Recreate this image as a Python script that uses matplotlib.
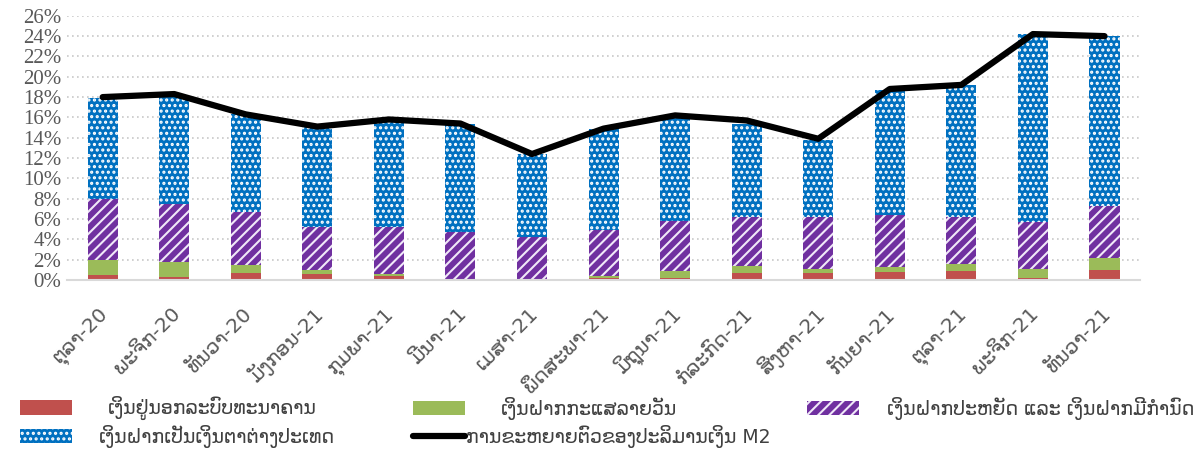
import numpy as np
import matplotlib.pyplot as plt
from matplotlib.patches import Patch
from matplotlib.lines import Line2D
import matplotlib.transforms as mtransforms

months = ['ຕຸລາ-20', 'ພະຈິກ-20', 'ທັນວາ-20', 'ມັງກອນ-21', 'ກຸມພາ-21', 'ມີນາ-21',
          'ເມສາ-21', 'ພຶດສະພາ-21', 'ມິຖຸນາ-21', 'ກໍລະກົດ-21', 'ສິງຫາ-21',
          'ກັນຍາ-21', 'ຕຸລາ-21', 'ພະຈິກ-21', 'ທັນວາ-21']

# contributions to M2 growth (percentage points)
currency = [0.52, 0.33, 0.65, 0.62, 0.39, 0.10, 0.05, 0.20, 0.20, 0.65, 0.65, 0.75, 0.85, 0.20, 0.98]
demand = [1.45, 1.47, 0.85, 0.36, 0.20, 0.05, 0.05, 0.19, 0.72, 0.69, 0.46, 0.49, 0.72, 0.85, 1.15]
savings = [6.03, 5.67, 5.18, 4.26, 4.59, 4.53, 4.16, 4.52, 4.91, 4.82, 5.11, 5.18, 4.59, 4.71, 5.11]
foreign = [9.95, 10.63, 9.62, 9.83, 10.48, 10.65, 8.12, 9.93, 10.15, 9.17, 7.54, 12.25, 13.00, 18.41, 16.74]
m2_growth = [18.0, 18.3, 16.3, 15.1, 15.8, 15.4, 12.4, 14.9, 16.2, 15.7, 13.9, 18.8, 19.2, 24.2, 24.0]

labels = ['ເງິນຢູ່ນອກລະບົບທະນາຄານ', 'ເງິນຝາກກະແສລາຍວັນ',
          'ເງິນຝາກປະຫຍັດ ແລະ ເງິນຝາກມີກຳນົດ', 'ເງິນຝາກເປັນເງິນຕາຕ່າງປະເທດ',
          'ການຂະຫຍາຍຕົວຂອງປະລິມານເງິນ M2']

RED, GREEN, PURPLE, LILAC, BLUE = '#C0504D', '#9BBB59', '#7030A0', '#F0E8F8', '#0070C0'

plt.rcParams['hatch.linewidth'] = 1.5
fig = plt.figure(figsize=(11.94, 4.51), dpi=100)
ax = fig.add_axes([0.056, 0.379, 0.899, 0.586])

x = np.arange(len(months))
w = 0.42
c = np.array(currency)
d = np.array(demand)
s = np.array(savings)
f = np.array(foreign)

ax.bar(x, c, w, color=RED, lw=0, zorder=2)
ax.bar(x, d, w, bottom=c, color=GREEN, lw=0, zorder=2)
ax.bar(x, s, w, bottom=c + d, facecolor=PURPLE, edgecolor=LILAC,
       hatch='///', lw=0, zorder=2)
ax.bar(x, f, w, bottom=c + d + s, facecolor=BLUE, edgecolor='white',
       hatch='...', lw=0, zorder=2)
ax.plot(x, m2_growth, color='black', lw=4.5, solid_capstyle='round',
        solid_joinstyle='round', zorder=3)

ax.set_xlim(-0.5, len(months) - 0.5)
ax.set_ylim(0, 26)
ax.set_yticks(np.arange(0, 27, 2))
ax.set_yticklabels([f'{v}%' for v in range(0, 27, 2)], fontsize=15,
                   family='Liberation Serif', color='#595959')
ax.yaxis.grid(True, ls=(0, (1, 2)), color='#C8C8C8', lw=1.2, zorder=0)
ax.tick_params(axis='y', length=0, pad=4)
ax.tick_params(axis='x', length=0, pad=0)
ax.set_xticks(x)
ax.set_xticklabels(months, rotation=45, ha='right', va='center',
                   rotation_mode='anchor', fontsize=14.5, color='#595959',
                   family=['DejaVu Sans'])
offset = mtransforms.ScaledTranslation(0.03, -0.31, fig.dpi_scale_trans)
for lab in ax.get_xticklabels():
    lab.set_transform(lab.get_transform() + offset)
for sp in ['top', 'right', 'left']:
    ax.spines[sp].set_visible(False)
ax.spines['bottom'].set_color('#D9D9D9')
ax.spines['bottom'].set_linewidth(1.5)

# legend entries placed one by one, like the original layout
fs = 13.6
entries = [
    (Patch(facecolor=RED, lw=0), labels[0], 20, 408, 1.9),
    (Patch(facecolor=GREEN, lw=0), labels[1], 413, 408, 1.9),
    (Patch(facecolor=PURPLE, edgecolor=LILAC, hatch='///', lw=0), labels[2], 807, 408, 1.5),
    (Patch(facecolor=BLUE, edgecolor='white', hatch='...', lw=0), labels[3], 20, 436, 1.45),
    (Line2D([0], [0], color='black', lw=4.5, solid_capstyle='round'), labels[4], 413, 436, 0.05),
]
for h, t, px, py, pad in entries:
    fig.legend([h], [t], loc='center left', bbox_to_anchor=(px / 1194, 1 - py / 451),
               frameon=False, labelcolor='#404040', handlelength=2.75,
               handleheight=0.8, handletextpad=pad, borderpad=0,
               borderaxespad=0, prop={'family': ['DejaVu Sans'], 'size': fs})

fig.savefig('out.png', dpi=100)
